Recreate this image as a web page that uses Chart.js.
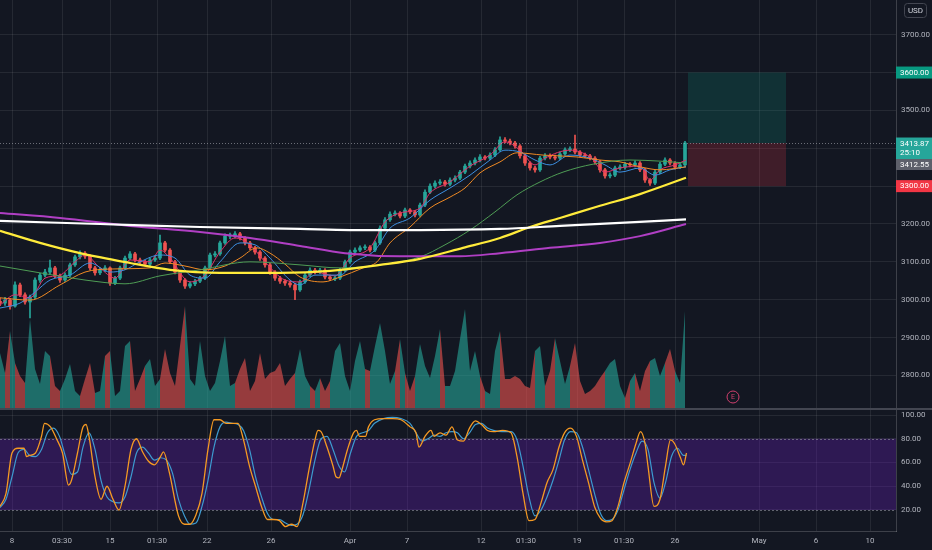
<!DOCTYPE html>
<html>
<head>
<meta charset="utf-8">
<script src="https://cdn.jsdelivr.net/npm/chart.js@4.4.1/dist/chart.umd.min.js"></script>
<style>
  html, body { margin: 0; padding: 0; background: #131722; overflow: hidden; }
  #wrap { position: relative; width: 932px; height: 550px; }
  canvas { position: absolute; left: 0; }
  #price { top: 0; }
  #stoch { top: 408px; }
</style>
</head>
<body>
<div id="wrap">
  <canvas id="price" width="932" height="408"></canvas>
  <canvas id="stoch" width="932" height="142"></canvas>
</div>
<script>
// ---- data (bar index units on x) ----
const tickPos = [2.4, 12.4, 22, 31.4, 41.4, 54.2, 70, 81.4, 96.2, 105.2, 115.4, 124.8, 135, 151.8, 163.2, 174];
const tickLabels = ['8', '03:30', '15', '01:30', '22', '26', 'Apr', '7', '12', '01:30', '19', '01:30', '26', 'May', '6', '10'];
const priceTicks = [2800, 2900, 3000, 3100, 3200, 3300, 3400, 3500, 3600, 3700];
const stochTicks = [20, 40, 60, 80, 100];

const opens = [2996,2991,2999,2983,3039,3013,2994,3007,3052,3065,
  3073,3084,3063,3052,3065,3092,3113,3123,3115,3084,
  3071,3078,3084,3044,3057,3084,3110,3121,3105,3100,
  3094,3105,3110,3150,3131,3100,3073,3052,3036,3042,
  3049,3057,3084,3118,3121,3150,3168,3168,3174,3163,
  3150,3137,3126,3110,3092,3073,3057,3049,3044,3039,
  3026,3047,3065,3078,3073,3078,3060,3055,3057,3078,
  3100,3126,3131,3137,3139,3131,3150,3189,3211,3226,
  3229,3221,3237,3232,3224,3250,3284,3300,3308,3311,
  3305,3316,3321,3337,3353,3361,3369,3377,3374,3382,
  3396,3422,3419,3414,3406,3380,3361,3348,3343,3374,
  3380,3377,3374,3385,3396,3398,3390,3382,3380,3374,
  3364,3343,3327,3329,3348,3350,3358,3356,3361,3343,
  3316,3308,3337,3358,3369,3361,3350,3356];
const closes = [2991,2999,2983,3039,3013,2994,3007,3052,3065,3073,
  3084,3063,3052,3065,3092,3113,3123,3115,3084,3071,
  3078,3084,3044,3057,3084,3110,3121,3105,3100,3094,
  3105,3110,3150,3131,3100,3073,3052,3036,3042,3049,
  3057,3084,3118,3121,3150,3168,3168,3174,3163,3150,
  3137,3126,3110,3092,3073,3057,3049,3044,3039,3026,
  3047,3065,3078,3073,3078,3060,3055,3057,3078,3100,
  3126,3131,3137,3139,3131,3150,3189,3211,3226,3229,
  3221,3237,3232,3224,3250,3284,3300,3308,3311,3305,
  3316,3321,3337,3353,3361,3369,3377,3374,3382,3396,
  3422,3419,3414,3406,3380,3361,3348,3343,3374,3380,
  3377,3374,3385,3396,3398,3390,3382,3380,3374,3364,
  3343,3327,3329,3348,3350,3358,3356,3361,3343,3316,
  3308,3337,3358,3369,3361,3350,3356,3414];
const highs = [3004,3006,3003,3047,3044,3018,3012,3058,3070,3080,
  3105,3088,3068,3071,3097,3118,3129,3127,3119,3088,
  3084,3090,3087,3062,3089,3115,3127,3125,3110,3104,
  3110,3116,3171,3154,3135,3104,3077,3056,3047,3054,
  3062,3089,3123,3127,3155,3174,3176,3180,3178,3167,
  3154,3141,3130,3114,3096,3077,3062,3053,3049,3043,
  3052,3070,3084,3083,3083,3082,3065,3062,3083,3105,
  3131,3137,3142,3145,3143,3155,3195,3217,3232,3235,
  3233,3242,3241,3236,3255,3290,3306,3314,3317,3315,
  3322,3327,3342,3358,3367,3375,3383,3381,3388,3402,
  3430,3428,3424,3418,3410,3384,3365,3352,3379,3386,
  3385,3382,3390,3401,3404,3435,3394,3387,3384,3378,
  3368,3347,3335,3353,3356,3363,3362,3367,3365,3347,
  3320,3342,3363,3375,3373,3365,3361,3418];
const lows = [2984,2985,2975,2980,3008,2988,2952,3003,3046,3060,
  3068,3058,3046,3048,3061,3088,3108,3109,3079,3065,
  3066,3074,3038,3040,3053,3080,3106,3100,3095,3089,
  3090,3101,3106,3126,3095,3068,3046,3030,3031,3037,
  3045,3053,3080,3113,3117,3146,3161,3163,3158,3145,
  3132,3120,3104,3086,3067,3051,3043,3038,3033,3000,
  3022,3043,3061,3068,3069,3055,3050,3050,3053,3074,
  3096,3121,3127,3132,3126,3127,3146,3185,3207,3221,
  3216,3217,3227,3219,3220,3246,3280,3295,3303,3300,
  3301,3311,3317,3333,3348,3356,3364,3369,3370,3378,
  3392,3414,3409,3400,3374,3355,3342,3337,3339,3369,
  3372,3369,3370,3381,3391,3385,3377,3375,3369,3358,
  3337,3321,3322,3325,3343,3345,3351,3351,3338,3310,
  3302,3304,3333,3354,3356,3345,3346,3352];
const volume = [55,35,77,45,32,25,89,39,24,57,
  52,22,17,29,44,17,12,29,45,15,
  17,52,57,12,17,62,67,17,29,42,
  49,22,29,59,35,22,62,102,29,22,
  67,32,17,25,47,72,22,25,39,50,
  17,27,55,29,35,37,45,22,29,35,
  59,32,22,17,30,17,27,57,65,32,
  17,47,67,39,37,62,85,57,24,37,
  69,35,17,32,64,42,30,52,79,22,
  22,37,69,99,37,57,32,17,14,57,
  77,29,29,32,29,22,20,57,62,22,
  37,70,47,24,42,65,27,14,17,22,
  30,37,45,49,22,10,27,35,17,37,
  47,50,32,45,59,37,25,97];

// moving averages: bar positions and values
const ma200Bars = [0, 20, 40, 60, 70, 84, 100, 112, 124, 137.2];
const ma200 = [3208, 3200, 3192, 3187, 3184, 3184, 3187, 3195, 3203, 3212];
const maPurpleBars = [0, 12, 26, 40, 50, 60, 69, 80, 92, 100, 110, 120, 128, 137.2];
const maPurple = [3229, 3216, 3195, 3179, 3163, 3142, 3123, 3115, 3115, 3123, 3137, 3150, 3168, 3200];
const maYellowBars = [0, 8, 16, 26, 34, 44, 56, 66, 76, 84, 92.6, 100, 106, 112, 120, 128, 137.2];
const maYellow = [3182, 3150, 3123, 3097, 3079, 3071, 3071, 3076, 3092, 3108, 3137, 3163, 3192, 3216, 3248, 3279, 3322];
const maGreenBars = [0, 8, 17, 25, 32, 40, 50, 60, 68, 76, 84, 89, 94, 99, 103.4, 108, 112.6, 118.6, 126, 132, 137.2];
const maGreen = [3089, 3071, 3052, 3042, 3063, 3079, 3100, 3092, 3084, 3092, 3113, 3145, 3184, 3232, 3277, 3311, 3337, 3358, 3369, 3366, 3361];
const maOrangeBars = [0, 6, 12, 17, 22, 30, 33, 37, 41, 45, 48, 51.4, 54, 57, 60, 64.6, 68, 72.6, 75.4, 78, 82, 86, 90, 93, 96, 100, 103.4, 108.6, 115.4, 120, 124, 128, 132, 137.2];
const maOrange = [3005, 2999, 3039, 3073, 3081, 3084, 3097, 3089, 3079, 3089, 3110, 3137, 3123, 3094, 3060, 3047, 3060, 3084, 3100, 3150, 3192, 3242, 3271, 3295, 3335, 3364, 3388, 3382, 3377, 3369, 3364, 3351, 3343, 3351];
const maBlueBars = [0, 4, 7, 10, 14, 18, 22, 25, 28, 32, 35, 38, 41, 44, 48, 51, 54, 58, 60, 63, 68, 71, 75, 78, 82, 86, 90, 94, 98, 101, 104, 107, 110, 114, 118, 121, 124, 128, 131, 134, 137.2];
const maBlue = [2978, 2991, 3020, 3052, 3065, 3097, 3073, 3079, 3100, 3118, 3110, 3065, 3057, 3100, 3150, 3145, 3110, 3052, 3039, 3065, 3065, 3100, 3131, 3189, 3216, 3263, 3295, 3329, 3369, 3395, 3390, 3369, 3356, 3382, 3374, 3356, 3337, 3348, 3329, 3343, 3351];
const maPinkBars = [0, 3, 6, 9, 12, 15, 17, 20, 23, 26, 30, 32, 34, 38, 41, 44, 47, 50, 53, 57, 60, 63, 67, 70, 74, 77, 80, 84, 86, 90, 94, 98, 101, 104, 107, 109, 114, 118, 121, 124, 128, 130, 132, 135, 137.2];
const maPink = [2986, 3013, 3005, 3057, 3065, 3100, 3118, 3084, 3057, 3105, 3100, 3131, 3110, 3047, 3065, 3126, 3163, 3145, 3100, 3052, 3047, 3073, 3063, 3110, 3137, 3205, 3229, 3242, 3282, 3311, 3353, 3382, 3417, 3395, 3356, 3374, 3395, 3377, 3337, 3348, 3353, 3316, 3343, 3356, 3369];

// stochastic RSI
const kBars = [0, 1.2, 2.4, 3.6, 4.8, 5.3, 5.9, 7.1, 8.3, 8.9, 10.1, 11.3, 12.5, 13.7, 14.3, 15.5, 16.6, 17.2, 17.8, 19.0, 20.2, 21.4, 22.6, 23.8, 25.0, 26.2, 27.3, 28.5, 29.7, 30.9, 32.1, 32.7, 33.9, 35.7, 36.9, 38.0, 39.2, 40.4, 41.6, 42.8, 44.0, 45.2, 46.4, 47.6, 48.7, 49.9, 51.1, 52.3, 53.5, 54.7, 55.9, 57.1, 58.3, 59.4, 60.6, 61.8, 63.0, 63.6, 64.2, 65.4, 66.6, 67.2, 67.8, 68.4, 69.5, 70.7, 71.3, 71.9, 73.1, 73.7, 74.9, 76.7, 78.5, 80.2, 82.0, 83.2, 83.8, 85.0, 86.2, 86.8, 88.0, 89.2, 90.4, 91.5, 92.7, 93.9, 95.1, 96.3, 97.5, 98.7, 100.5, 102.2, 103.4, 104.6, 105.8, 107.0, 108.2, 109.4, 110.6, 111.8, 112.9, 114.1, 115.3, 116.5, 117.7, 118.9, 120.1, 121.3, 122.4, 123.6, 124.8, 126.0, 127.2, 128.1, 129.0, 129.6, 130.8, 132.0, 133.1, 134.1, 134.9, 136.1, 136.7, 137.3];
const kVals = [23, 34, 68, 72, 72, 65, 66, 68, 82, 93, 90, 80, 68, 41, 45, 68, 90, 92, 82, 48, 29, 40, 29, 20, 40, 71, 80, 69, 61, 58, 65, 69, 51, 15, 8, 8, 16, 34, 71, 96, 96, 93, 93, 93, 79, 57, 40, 23, 12, 12, 11, 6, 8, 6, 26, 54, 79, 87, 86, 73, 57, 48, 47, 54, 71, 85, 87, 82, 82, 90, 96, 97, 97, 96, 90, 85, 73, 82, 87, 82, 85, 83, 90, 79, 78, 89, 95, 92, 87, 86, 87, 85, 65, 34, 11, 12, 26, 43, 54, 73, 85, 89, 82, 62, 43, 23, 13, 10, 11, 23, 43, 59, 76, 86, 76, 57, 23, 29, 57, 79, 76, 64, 58, 68];
const dBars = [0, 1.2, 2.4, 3.6, 4.8, 5.9, 7.1, 8.3, 9.5, 10.7, 11.9, 13.1, 14.3, 15.5, 16.6, 17.8, 19.0, 20.2, 21.4, 22.6, 23.8, 25.0, 26.2, 27.3, 28.5, 29.7, 30.9, 32.1, 33.3, 34.5, 35.7, 36.9, 38.0, 39.2, 40.4, 41.6, 42.8, 44.0, 45.2, 46.4, 47.6, 48.7, 49.9, 51.1, 52.3, 53.5, 54.7, 55.9, 57.1, 58.3, 59.4, 60.6, 61.8, 63.0, 64.2, 65.4, 66.6, 67.8, 68.9, 70.1, 71.3, 72.5, 73.7, 74.9, 76.7, 78.5, 80.2, 82.0, 83.2, 84.4, 85.6, 86.8, 88.0, 89.2, 90.4, 91.5, 92.7, 93.9, 95.1, 96.3, 97.5, 98.7, 100.5, 102.2, 103.4, 104.6, 105.8, 107.0, 108.2, 109.4, 110.6, 111.8, 112.9, 114.1, 115.3, 116.5, 117.7, 118.9, 120.1, 121.3, 122.4, 123.6, 124.8, 126.0, 127.2, 128.4, 129.6, 130.8, 132.0, 133.1, 134.3, 135.5, 136.7, 137.3];
const dVals = [22, 29, 48, 68, 71, 66, 65, 71, 85, 89, 82, 65, 50, 52, 73, 85, 71, 45, 31, 27, 26, 31, 48, 68, 73, 68, 62, 64, 62, 51, 29, 15, 8, 9, 23, 45, 73, 90, 94, 93, 92, 87, 71, 48, 31, 17, 12, 12, 9, 7, 8, 16, 37, 62, 80, 82, 71, 57, 52, 68, 82, 85, 87, 93, 97, 98, 97, 93, 85, 78, 80, 83, 82, 85, 86, 85, 80, 85, 92, 93, 89, 87, 86, 86, 79, 57, 31, 15, 20, 31, 45, 62, 79, 86, 85, 73, 54, 34, 17, 11, 12, 20, 37, 54, 68, 78, 71, 43, 30, 43, 65, 72, 66, 66];

// position tool and current price
const boxStart = 137.6, boxEnd = 157.2;
const targetPrice = 3600, entryPrice = 3413.87, stopPrice = 3300;
const lastPrice = 3413.87, lastCountdown = '25:10', prevPrice = 3412.55;
const earningsBar = 146.6;

// ---- helpers ----
const FONT = "Roboto, 'Noto Sans', sans-serif";
Chart.defaults.font.family = FONT;
Chart.defaults.color = '#b2b5be';

const GRID = 'rgba(255,255,255,0.08)';
const UP = '#26a69a', DOWN = '#ef5350';
const isUp = closes.map((c, i) => c >= opens[i]);
const pts = (xs, ys) => xs.map((x, i) => ({ x: x, y: ys[i] }));
const noPad = s => { s.paddingTop = 0; s.paddingBottom = 0; s.paddingLeft = 0; s.paddingRight = 0; };

function maLine(xs, ys, color, width, order) {
  return {
    type: 'line', data: pts(xs, ys), borderColor: color, borderWidth: width,
    pointRadius: 0, cubicInterpolationMode: 'monotone', fill: false, order: order, yAxisID: 'y'
  };
}

function tag(ctx, left, yc, h, bg, lines) {
  ctx.fillStyle = bg;
  ctx.fillRect(left, yc - h / 2, 932 - left, h);
  ctx.fillStyle = '#ffffff';
  ctx.font = '8px ' + FONT;
  ctx.textAlign = 'left';
  ctx.textBaseline = 'middle';
  const lh = 9.5;
  lines.forEach((t, i) => ctx.fillText(t, left + 4, yc - (lines.length - 1) * lh / 2 + i * lh));
}

const xAxisBase = {
  type: 'linear', min: 0, max: 179.2, offset: false,
  afterBuildTicks: s => { s.ticks = tickPos.map(v => ({ value: v })); },
  grid: { color: GRID, drawTicks: false, offset: false },
  border: { display: false }
};

// ---- price pane ----
const pricePlugin = {
  id: 'pricePlugin',
  beforeDatasetsDraw(chart) {
    const { ctx, scales: { x, y } } = chart;
    const x0 = x.getPixelForValue(boxStart), x1 = x.getPixelForValue(boxEnd);
    const yT = y.getPixelForValue(targetPrice), yE = y.getPixelForValue(entryPrice), yS = y.getPixelForValue(stopPrice);
    ctx.save();
    ctx.fillStyle = 'rgba(8,153,129,0.2)';
    ctx.fillRect(x0, yT, x1 - x0, yE - yT);
    ctx.fillStyle = 'rgba(242,54,69,0.2)';
    ctx.fillRect(x0, yE, x1 - x0, yS - yE);
    ctx.restore();
  },
  afterDraw(chart) {
    const { ctx, chartArea: a, scales: { x, y } } = chart;
    ctx.save();
    // last price line
    const yl = Math.round(y.getPixelForValue(lastPrice)) + 0.5;
    ctx.strokeStyle = 'rgba(178,181,190,0.55)';
    ctx.lineWidth = 1;
    ctx.setLineDash([1, 2]);
    ctx.beginPath(); ctx.moveTo(a.left, yl); ctx.lineTo(a.right, yl); ctx.stroke();
    ctx.setLineDash([]);
    // earnings marker
    const ex = x.getPixelForValue(earningsBar), ey = a.bottom - 11;
    ctx.strokeStyle = '#d0406e';
    ctx.beginPath(); ctx.arc(ex, ey, 6, 0, Math.PI * 2); ctx.stroke();
    ctx.fillStyle = '#d0406e';
    ctx.font = '7px ' + FONT;
    ctx.textAlign = 'center'; ctx.textBaseline = 'middle';
    ctx.fillText('E', ex, ey + 0.5);
    // axis tags
    const left = a.right;
    tag(ctx, left, y.getPixelForValue(targetPrice), 12, '#089981', [targetPrice.toFixed(2)]);
    tag(ctx, left, y.getPixelForValue(lastPrice) + 5.5, 22, '#26a69a', [lastPrice.toFixed(2), lastCountdown]);
    tag(ctx, left, y.getPixelForValue(lastPrice) + 21.5, 11, '#5d606b', [prevPrice.toFixed(2)]);
    tag(ctx, left, y.getPixelForValue(stopPrice), 12, '#f23645', [stopPrice.toFixed(2)]);
    // currency box
    ctx.strokeStyle = '#434651';
    ctx.lineWidth = 1;
    ctx.beginPath();
    ctx.roundRect(904.5, 3.5, 22, 14, 3);
    ctx.stroke();
    ctx.fillStyle = '#d1d4dc';
    ctx.font = '8px ' + FONT;
    ctx.textAlign = 'center'; ctx.textBaseline = 'middle';
    ctx.fillText('USD', 915.5, 11);
    ctx.restore();
  }
};

new Chart(document.getElementById('price'), {
  type: 'bar',
  data: {
    datasets: [
      {
        type: 'line', data: pts(volume.map((_, i) => i), volume), yAxisID: 'yVol',
        fill: 'origin', borderWidth: 0, borderColor: 'transparent', pointRadius: 0, tension: 0,
        backgroundColor: 'rgba(38,166,154,0.6)',
        segment: { backgroundColor: c => isUp[c.p1DataIndex] ? 'rgba(38,166,154,0.6)' : 'rgba(239,83,80,0.6)' },
        order: 20
      },
      {
        data: pts(lows.map((_, i) => i), lows.map((l, i) => [l, highs[i]])), yAxisID: 'y',
        backgroundColor: isUp.map(u => u ? UP : DOWN), barThickness: 1, grouped: false, order: 12
      },
      {
        data: pts(opens.map((_, i) => i), opens.map((o, i) => [o, closes[i]])), yAxisID: 'y',
        backgroundColor: isUp.map(u => u ? UP : DOWN), barThickness: 3, minBarLength: 1, grouped: false, order: 11
      },
      maLine(ma200Bars, ma200, '#ffffff', 2.2, 1),
      maLine(maPurpleBars, maPurple, '#b03fc4', 2, 2),
      maLine(maYellowBars, maYellow, '#ffeb3b', 2.2, 1),
      maLine(maGreenBars, maGreen, '#4f9d55', 1, 3),
      maLine(maOrangeBars, maOrange, '#f08a24', 1, 3),
      maLine(maBlueBars, maBlue, '#3d8fe0', 1, 3),
      maLine(maPinkBars, maPink, '#e0336a', 1, 3)
    ]
  },
  options: {
    responsive: false, animation: false, events: [],
    layout: { padding: 0 },
    plugins: { legend: { display: false }, tooltip: { enabled: false } },
    scales: {
      x: Object.assign({}, xAxisBase, {
        ticks: { display: false },
        afterFit: s => { s.height = 0; noPad(s); }
      }),
      y: {
        position: 'right', min: 2714, max: 3791.6,
        afterBuildTicks: s => { s.ticks = priceTicks.map(v => ({ value: v })); },
        afterFit: s => { s.width = 36; noPad(s); },
        ticks: { callback: v => v.toFixed(2), padding: 5, font: { size: 8 }, color: '#b2b5be' },
        grid: { color: GRID, drawTicks: false },
        border: { color: 'rgba(255,255,255,0.18)' }
      },
      yVol: { display: false, min: 0, max: 408, afterFit: noPad }
    }
  },
  plugins: [pricePlugin]
});

// ---- stochastic RSI pane ----
const stochPlugin = {
  id: 'stochPlugin',
  beforeDatasetsDraw(chart) {
    const { ctx, chartArea: a, scales: { y } } = chart;
    const y80 = y.getPixelForValue(80), y20 = y.getPixelForValue(20);
    ctx.save();
    ctx.fillStyle = 'rgba(110,30,200,0.3)';
    ctx.fillRect(a.left, y80, a.right - a.left, y20 - y80);
    ctx.strokeStyle = 'rgba(150,152,161,0.6)';
    ctx.lineWidth = 1;
    ctx.setLineDash([2, 2]);
    [y80, y20].forEach(v => {
      const yy = Math.round(v) + 0.5;
      ctx.beginPath(); ctx.moveTo(a.left, yy); ctx.lineTo(a.right, yy); ctx.stroke();
    });
    ctx.restore();
  },
  afterDraw(chart) {
    const { ctx } = chart;
    ctx.save();
    ctx.strokeStyle = '#434651';
    ctx.lineWidth = 2;
    ctx.beginPath(); ctx.moveTo(0, 1); ctx.lineTo(932, 1); ctx.stroke();
    ctx.restore();
  }
};

new Chart(document.getElementById('stoch'), {
  type: 'line',
  data: {
    datasets: [
      { data: pts(dBars, dVals), borderColor: '#3d9bd0', borderWidth: 1.2, pointRadius: 0, cubicInterpolationMode: 'monotone', fill: false, order: 2 },
      { data: pts(kBars, kVals), borderColor: '#f59a23', borderWidth: 1.3, pointRadius: 0, cubicInterpolationMode: 'monotone', fill: false, order: 1 }
    ]
  },
  options: {
    responsive: false, animation: false, events: [],
    layout: { padding: 0 },
    plugins: { legend: { display: false }, tooltip: { enabled: false } },
    scales: {
      x: Object.assign({}, xAxisBase, {
        ticks: {
          autoSkip: false, maxRotation: 0, padding: 5, font: { size: 8 }, color: '#b2b5be',
          callback: (v, i) => tickLabels[i]
        },
        border: { display: true, color: 'rgba(255,255,255,0.18)' },
        afterFit: s => { s.height = 19; noPad(s); }
      }),
      y: {
        position: 'right', min: 2.3, max: 105.9,
        afterBuildTicks: s => { s.ticks = stochTicks.map(v => ({ value: v })); },
        afterFit: s => { s.width = 36; noPad(s); },
        ticks: { callback: v => v.toFixed(2), padding: 5, font: { size: 8 }, color: '#b2b5be' },
        grid: { color: GRID, drawTicks: false },
        border: { color: 'rgba(255,255,255,0.18)' }
      }
    }
  },
  plugins: [stochPlugin]
});
</script>
</body>
</html>
